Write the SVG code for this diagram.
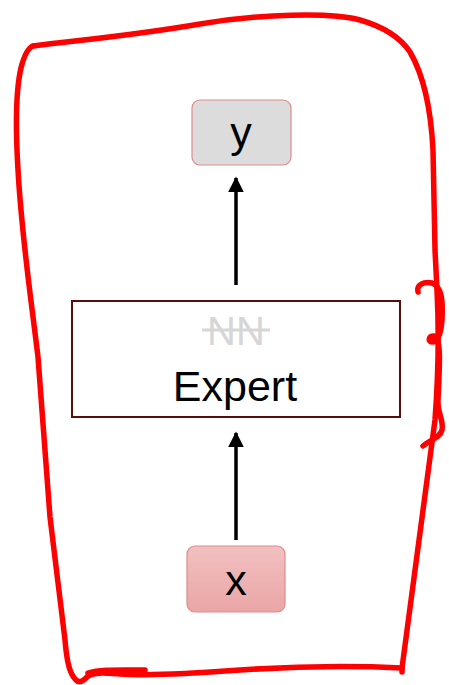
<svg xmlns="http://www.w3.org/2000/svg" width="449" height="685" viewBox="0 0 449 685">
  <style>
    .label { font-family: "Liberation Sans", Arial, sans-serif; fill: #000; text-anchor: middle; }
    .io { stroke: #e08a8a; stroke-width: 1.2; }
    .edge { stroke: #000; stroke-width: 3.5; fill: none; marker-end: url(#arrow); }
    .ink { fill: none; stroke: #ff0000; stroke-width: 5.5; stroke-linecap: round; stroke-linejoin: round; }
  </style>
  <defs>
    <marker id="arrow" viewBox="0 0 10 10" refX="9" refY="5" markerWidth="4.5" markerHeight="4.5" markerUnits="strokeWidth" orient="auto">
      <path d="M0,0 L10,5 L0,10 z" fill="#000"/>
    </marker>
    <linearGradient id="pink" x1="0" y1="0" x2="0" y2="1">
      <stop offset="0" stop-color="#f2c0c0"/>
      <stop offset="1" stop-color="#eaa6a6"/>
    </linearGradient>
  </defs>
  <rect width="449" height="685" fill="#fff"/>

  <!-- connectors -->
  <g id="edges">
    <line class="edge" x1="236" y1="540" x2="236" y2="433"/>
    <line class="edge" x1="236" y1="285" x2="236" y2="178"/>
  </g>

  <!-- output y -->
  <g id="node-y">
    <rect class="io" x="192" y="100" width="99" height="65" rx="8" fill="#dcdcdc"/>
    <text class="label" x="241" y="147" font-size="43">y</text>
  </g>

  <!-- expert block -->
  <g id="node-expert">
    <rect x="72" y="301" width="328" height="116" fill="#fff" stroke="#5a0d0d" stroke-width="2"/>
    <text class="label" x="236" y="345" font-size="40" style="fill:#d6d6d6">NN</text>
    <line x1="202" y1="330" x2="270" y2="330" stroke="#d6d6d6" stroke-width="3"/>
    <text class="label" x="235" y="401" font-size="43">Expert</text>
  </g>

  <!-- input x -->
  <g id="node-x">
    <rect class="io" x="187" y="546" width="98" height="66" rx="8" fill="url(#pink)"/>
    <text class="label" x="236" y="595" font-size="43">x</text>
  </g>

  <!-- hand-drawn red outline -->
  <g id="outline">
    <path class="ink" d="M33,46 C80,40 130,36 200,24 C260,14 330,12 360,20 C388,28 402,40 410,52 C424,76 431,110 433,150 L435,250 L437,290 C439,330 438,380 435,420 L402,668 L402,672"/>
    <path class="ink" d="M402,668 C360,666 300,666 240,670 C200,673 150,676 120,674 C105,673 95,672 88,676 C84,680 80,684 76,680 C70,674 67,664 65,640 L50,517 L38,357 C30,290 22,240 18,170 C15,120 17,85 21,68 C24,56 28,48 33,46"/>
    <path class="ink" d="M88,673 C100,669 120,670 145,670" stroke-width="7"/>
    <path class="ink" d="M418,292 C416,285 424,281 432,283 C442,287 443,300 442,320 C441,334 438,342 432,342 C428,342 428,336 434,336 C441,338 440,360 438,400 C437,412 444,420 442,430 C440,438 430,440 423,446"/>
  </g>
</svg>
